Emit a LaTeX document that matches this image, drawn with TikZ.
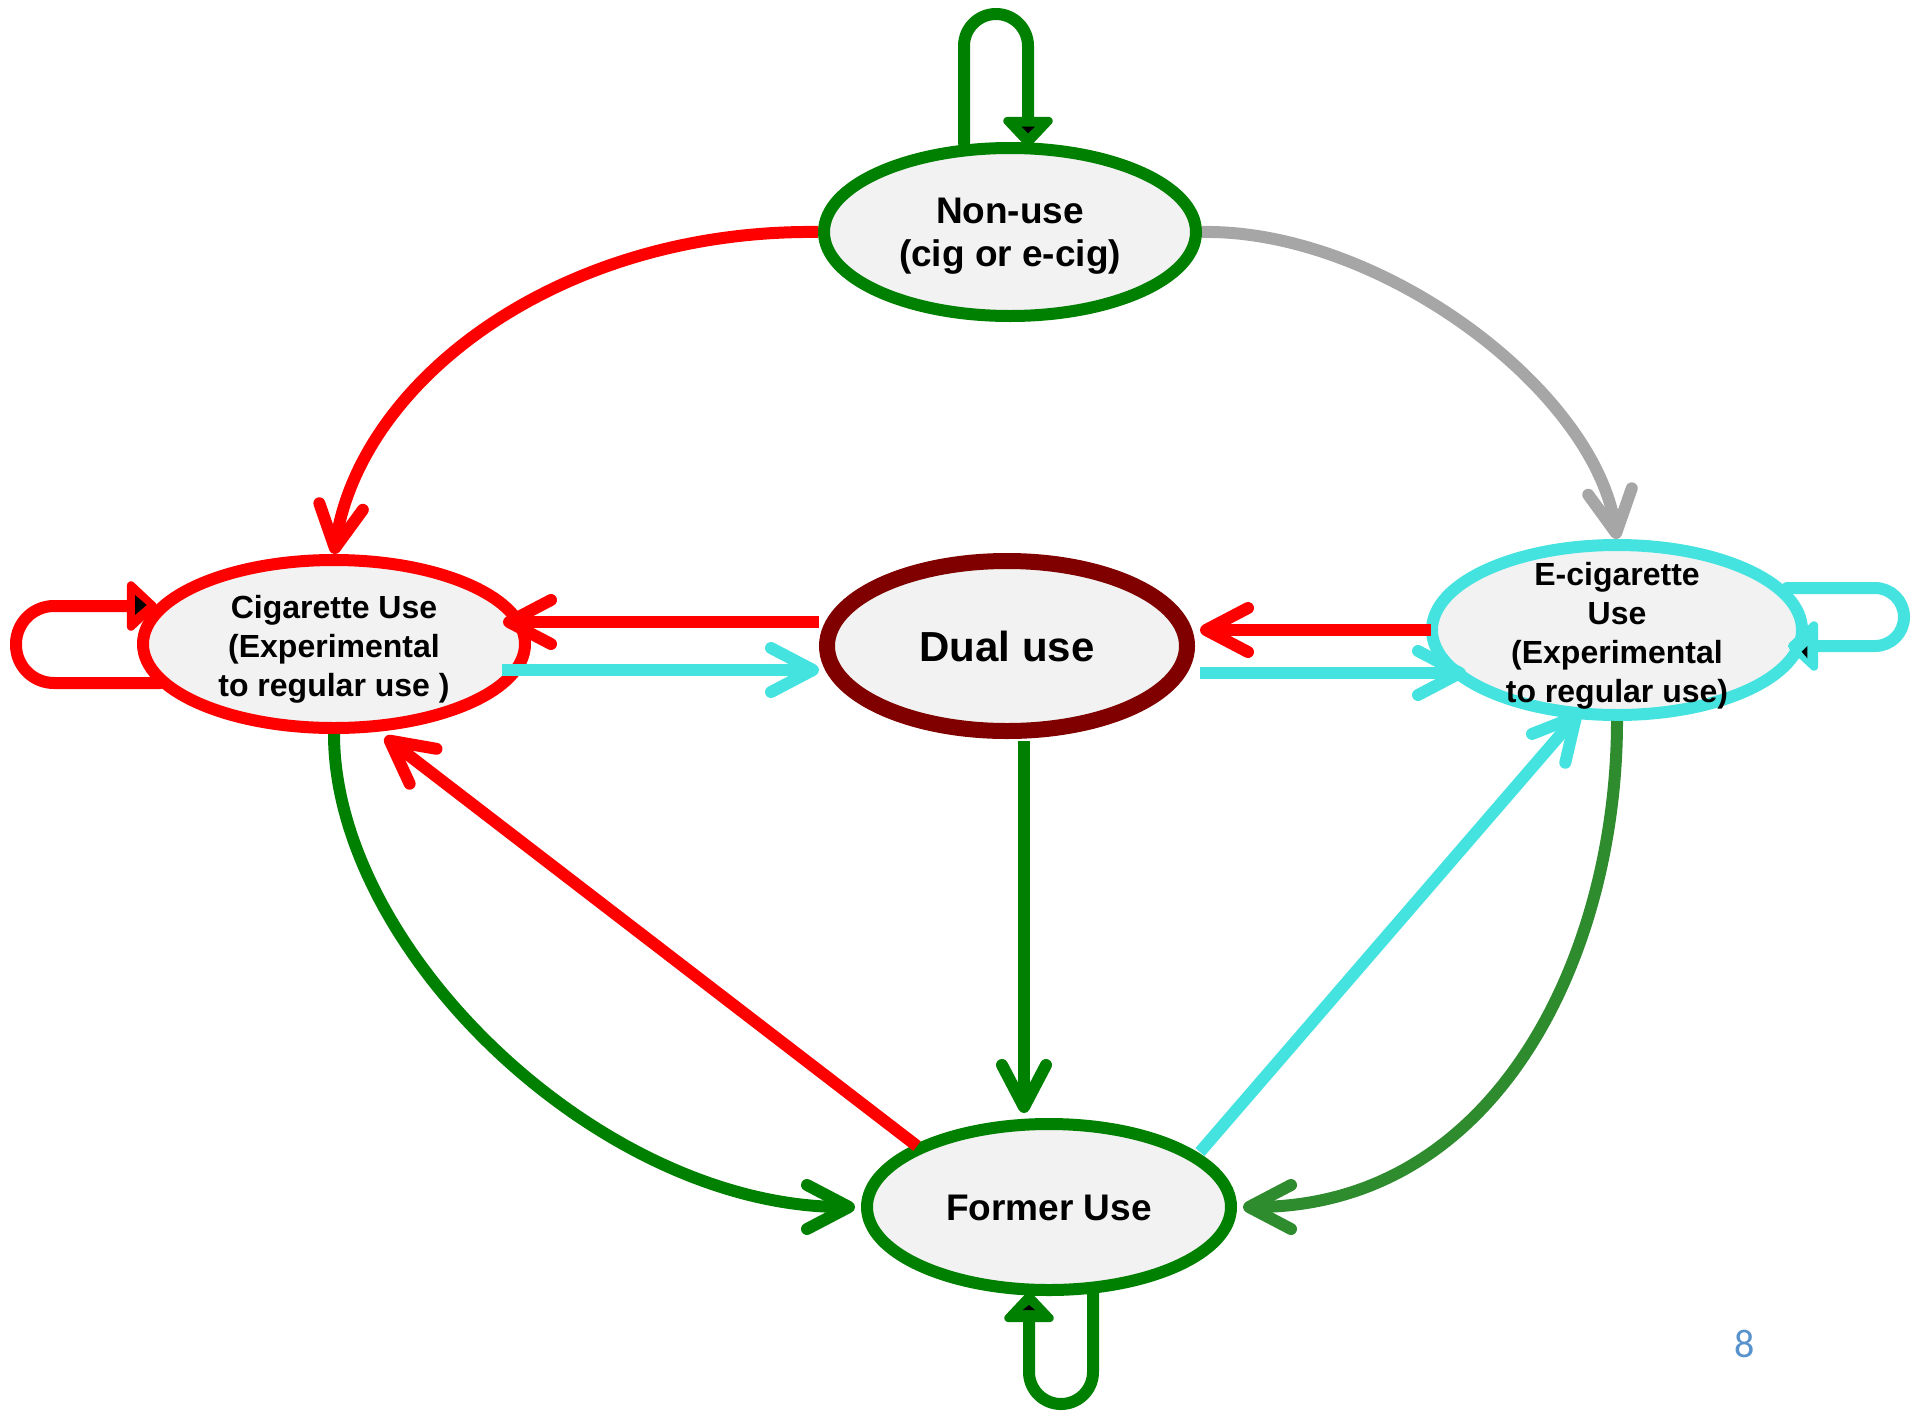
\documentclass[tikz,border=0pt]{standalone}
\usepackage{fontspec}
\setmainfont{Liberation Sans}
\newfontfamily\pagefont{Carlito}
\usetikzlibrary{shapes.geometric,arrows.meta,calc}

\definecolor{redc}{RGB}{255,0,0}
\definecolor{greenc}{RGB}{0,128,0}
\definecolor{fgreen}{RGB}{46,139,46}
\definecolor{cyanc}{RGB}{69,227,223}
\definecolor{grayc}{RGB}{166,166,166}
\definecolor{maroonc}{RGB}{128,0,0}
\definecolor{fillc}{RGB}{242,242,242}
\definecolor{pageblue}{RGB}{88,146,204}

\begin{document}
\begin{tikzpicture}[x=1pt,y=-1pt,
  state/.style={ellipse, fill=fillc, line width=12pt, inner sep=0pt},
  statetext/.style={align=center, inner sep=0pt, font=\bfseries},
  link/.style={line width=12pt, line cap=butt,
    -{Straight Barb[length=42pt,width=44pt,round]}},
  selfloop/.style={line width=12pt, line cap=round, line join=round,
    -{Triangle[length=32pt,width=58pt,round]}},
  tipmark/.style={fill=black}]
\useasboundingbox (0,0) rectangle (1911,1411);

% states
\node[state, draw=greenc, minimum width=372pt, minimum height=168pt] (non) at (1010,232) {};
\node[state, draw=redc, minimum width=382pt, minimum height=168pt] (cig) at (334,644) {};
\node[state, draw=maroonc, line width=16pt, minimum width=360pt, minimum height=170pt] (dual) at (1007,646) {};
\node[state, draw=cyanc, minimum width=370pt, minimum height=170pt] (ecig) at (1617,630) {};
\node[state, draw=greenc, minimum width=364pt, minimum height=166pt] (former) at (1049,1207) {};

\node[statetext, font=\bfseries\fontsize{37}{43}\selectfont] (nontext) at ($(non)+(0,4)$) {Non-use\\(cig or e-cig)};
\node[statetext, font=\bfseries\fontsize{32}{39}\selectfont] (cigtext) at ($(cig)+(0,5)$) {Cigarette Use\\(Experimental\\to regular use )};
\node[statetext, font=\bfseries\fontsize{42}{50}\selectfont] (dualtext) at (dual) {Dual use};
\node[statetext, font=\bfseries\fontsize{32}{39}\selectfont] (ecigtext) at ($(ecig)+(0,6)$) {E-cigarette\\Use\\(Experimental\\to regular use)};
\node[statetext, font=\bfseries\fontsize{37}{45}\selectfont] (formertext) at ($(former)+(0,1)$) {Former Use};

% transitions
\draw[link, redc] (non.west) .. controls (560,229) and (360,380) .. (cig.north);
\draw[link, grayc] (non.east) .. controls (1380,229) and (1595,390) .. (ecig.north);

\draw[link, redc] ($(dual.west)+(0,-24)$) -- ($(cig.east)+(-28,-22)$);
\draw[link, cyanc] ($(cig.east)+(-29,26)$) -- ($(dual.west)+(0,24)$);
\draw[link, redc] ($(ecig.west)+(5,0)$) -- ($(dual.east)+(5,-16)$);
\draw[link, cyanc] ($(dual.east)+(5,27)$) -- ($(ecig.west)+(40,43)$);

\draw[link, greenc] ($(dual.south)+(17,2)$) -- ($(former.north)+(-25,-5)$);
\draw[link, greenc] (cig.south) .. controls (334,950) and (600,1207) .. ($(former.west)+(-6,0)$);
\draw[link, fgreen] (ecig.south) .. controls (1617,950) and (1500,1207) .. ($(former.east)+(6,0)$);

\draw[link, redc] ($(former.center)+(-132,-61)$) -- ($(cig.center)+(51,93)$);
\draw[link, cyanc] ($(former.center)+(151,-55)$) -- ($(ecig.center)+(-37,82)$);

% self transitions
\draw[selfloop, greenc, rounded corners=32pt]
  ($(non.center)+(-46,-89)$) -- ++(0,-129) -- ++(64,0) -- ($(non.center)+(18,-85)$);
\draw[selfloop, redc, rounded corners=38pt]
  ($(cig.center)+(-174,39)$) -- ++(-144,0) -- ++(0,-77) -- ($(cig.center)+(-177,-38)$);
\draw[selfloop, cyanc, rounded corners=29pt]
  ($(ecig.center)+(170,-42)$) -- ++(117,0) -- ++(0,58) -- ($(ecig.center)+(171,16)$);
\draw[selfloop, greenc, rounded corners=32pt]
  ($(former.center)+(44,86)$) -- ++(0,111) -- ++(-64,0) -- ($(former.center)+(-20,85)$);

% small dark marks inside the loop arrowheads
\fill[tipmark] (1021.7,126.7) -- (1035,126.7) -- (1028,133.3) -- cycle;
\fill[tipmark] (135,595) -- (135,615) -- (146.7,605) -- cycle;
\fill[tipmark] (1801.7,651.7) -- (1807.3,646) -- (1807.3,658.3) -- cycle;
\fill[tipmark] (1022.7,1310) -- (1035,1310) -- (1029,1305) -- cycle;

% page number
\node[text=pageblue, font=\pagefont\fontsize{40}{48}\selectfont] (pagenum) at (1745,1344) {8};
\end{tikzpicture}
\end{document}
